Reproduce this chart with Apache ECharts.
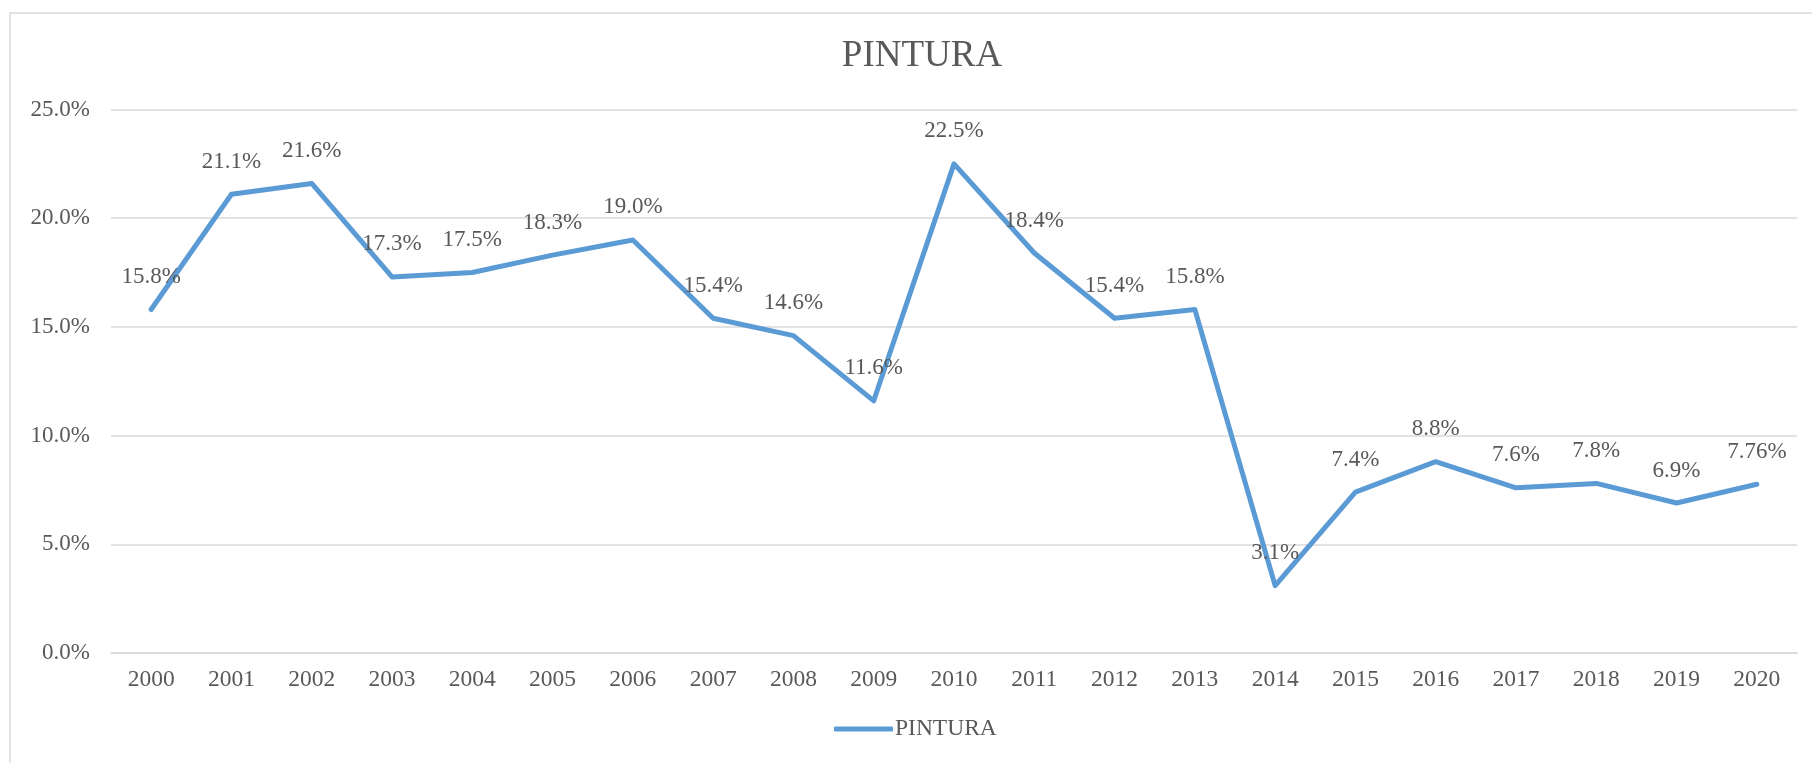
<!DOCTYPE html>
<html>
<head>
<meta charset="utf-8">
<title>PINTURA</title>
<script src="https://cdn.jsdelivr.net/npm/echarts@6/dist/echarts.min.js"></script>
<style>
    html, body { margin: 0; padding: 0; background: #fff; }
    #main { width: 1812px; height: 763px; }
</style>
</head>
<body>
<div id="main"></div>
<script>
// datos del grafico
var years = ['2000','2001','2002','2003','2004','2005','2006','2007','2008','2009','2010',
             '2011','2012','2013','2014','2015','2016','2017','2018','2019','2020'];
var pintura = [15.8, 21.1, 21.6, 17.3, 17.5, 18.3, 19.0, 15.4, 14.6, 11.6, 22.5,
               18.4, 15.4, 15.8, 3.1, 7.4, 8.8, 7.6, 7.8, 6.9, 7.76];
var yTicks = [0, 5, 10, 15, 20, 25];

var font = 'Liberation Serif';
var textColor = '#595959';

var myChart = echarts.init(document.getElementById('main'));

// etiqueta: un decimal, salvo si el valor trae mas
function pct(v) {
    var s = String(v);
    return (s.indexOf('.') >= 0 ? s : v.toFixed(1)) + '%';
}

var option = {
    animation: false,
    backgroundColor: '#fff',
    // marco del area del grafico
    graphic: [{
        type: 'rect',
        z: -1,
        shape: { x: 10, y: 13, width: 1900, height: 900 },
        style: { fill: 'none', stroke: '#d9d9d9', lineWidth: 1.5 }
    }],
    title: {
        text: 'PINTURA',
        left: 917,
        top: 33,
        textAlign: 'center',
        textStyle: { fontFamily: font, fontSize: 37, fontWeight: 'normal', color: textColor }
    },
    legend: {
        data: [{ name: 'PINTURA', icon: 'roundRect' }],
        left: 829,
        top: 712,
        itemWidth: 59,
        itemHeight: 5,
        itemGap: 4,
        textStyle: { fontFamily: font, fontSize: 23.5, color: textColor, padding: [0, 0, 0, -3] }
    },
    grid: { left: 111, right: 15, top: 109.5, bottom: 110, containLabel: false },
    xAxis: {
        type: 'category',
        data: years,
        boundaryGap: true,
        axisLine: { show: true, lineStyle: { color: '#d9d9d9', width: 1.5 } },
        axisTick: { show: false },
        axisLabel: { margin: 15, fontFamily: font, fontSize: 23.5, color: textColor }
    },
    yAxis: {
        type: 'value',
        min: yTicks[0],
        max: yTicks[yTicks.length - 1],
        interval: 5,
        axisLine: { show: false },
        axisTick: { show: false },
        splitLine: { lineStyle: { color: '#d9d9d9', width: 1.5 } },
        axisLabel: {
            margin: 21, fontFamily: font, fontSize: 23, color: textColor,
            formatter: function (v) { return v.toFixed(1) + '%'; }
        }
    },
    series: [{
        name: 'PINTURA',
        type: 'line',
        data: pintura,
        symbol: 'circle',
        symbolSize: 2,
        color: '#5b9bd5',
        lineStyle: { width: 5, color: '#5b9bd5', cap: 'round', join: 'round' },
        label: {
            show: true,
            position: 'top',
            distance: 20,
            fontFamily: font,
            fontSize: 23,
            color: textColor,
            formatter: function (p) { return pct(p.value); }
        }
    }]
};

myChart.setOption(option);
</script>
</body>
</html>
